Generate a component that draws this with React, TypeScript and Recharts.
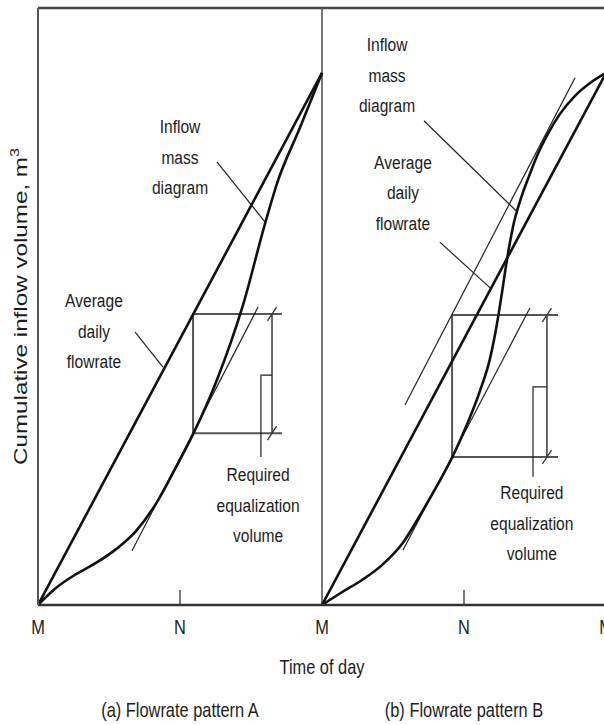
import {
  ComposedChart,
  Line,
  Scatter,
  XAxis,
  YAxis,
  ReferenceLine,
} from "recharts";

// x = days from midnight (M = midnight, N = noon), y = share of one day's inflow volume
const timeTicks = [0, 0.5, 1, 1.5, 2];
const timeTickLabels = ["M", "N", "M", "N", "M"];
const panelCaptions = ["(a) Flowrate pattern A", "(b) Flowrate pattern B"];
const yTop = 1.122;

type Pt = [number, number];

// (a) flowrate pattern A
const averageA: Pt[] = [[0, 0], [1, 1]];
const inflowA: Pt[] = [
  [0, 0], [0.063, 0.032], [0.134, 0.058], [0.204, 0.079], [0.275, 0.105],
  [0.345, 0.139], [0.415, 0.19], [0.486, 0.259], [0.546, 0.321], [0.63, 0.423],
  [0.722, 0.564], [0.799, 0.716], [0.842, 0.793], [0.923, 0.898], [1, 1],
];
const tangentA: Pt[] = [[0.331, 0.102], [0.775, 0.56]];
const boxA: Pt[] = [[0.859, 0.547], [0.546, 0.547], [0.546, 0.323], [0.859, 0.323]];
const dimA: Pt[] = [[0.824, 0.547], [0.824, 0.323]];

// (b) flowrate pattern B
const averageB: Pt[] = [[1, 0], [2, 1]];
const inflowB: Pt[] = [
  [1, 0], [1.07, 0.024], [1.141, 0.047], [1.211, 0.075], [1.285, 0.117],
  [1.352, 0.175], [1.408, 0.227], [1.461, 0.28], [1.511, 0.34], [1.556, 0.402],
  [1.592, 0.464], [1.616, 0.528], [1.634, 0.588], [1.651, 0.648], [1.673, 0.712],
  [1.701, 0.765], [1.729, 0.806], [1.757, 0.844], [1.792, 0.882], [1.838, 0.923],
  [1.891, 0.957], [1.944, 0.981], [2, 1],
];
const tangentBLow: Pt[] = [[1.285, 0.103], [1.732, 0.558]];
const tangentBHigh: Pt[] = [[1.292, 0.376], [1.891, 0.991]];
const boxB: Pt[] = [[1.831, 0.545], [1.458, 0.545], [1.458, 0.278], [1.831, 0.278]];
const dimB: Pt[] = [[1.792, 0.545], [1.792, 0.278]];

// pointer lines from the notes
const leaders: Pt[][] = [
  [[0.63, 0.833], [0.799, 0.72]],
  [[0.342, 0.513], [0.44, 0.447]],
  [[0.824, 0.432], [0.785, 0.432], [0.785, 0.278]],
  [[1.359, 0.91], [1.687, 0.739]],
  [[1.415, 0.682], [1.592, 0.596]],
  [[1.792, 0.41], [1.743, 0.41], [1.743, 0.241]],
];
const slashCenters: Pt[] = [[0.824, 0.547], [0.824, 0.323], [1.792, 0.545], [1.792, 0.278]];
const noonTicks = [0.5, 1.5];

const notes = [
  { x: 0.5, y: 0.887, lines: ["Inflow", "mass", "diagram"] },
  { x: 0.197, y: 0.56, lines: ["Average", "daily", "flowrate"] },
  { x: 0.775, y: 0.233, lines: ["Required", "equalization", "volume"] },
  { x: 1.229, y: 1.041, lines: ["Inflow", "mass", "diagram"] },
  { x: 1.285, y: 0.82, lines: ["Average", "daily", "flowrate"] },
  { x: 1.739, y: 0.199, lines: ["Required", "equalization", "volume"] },
];

const FONT = "'Liberation Sans', Arial, Helvetica, sans-serif";
const INK = "#1c1c1c";
const NARROW = 0.82;

const pts = (arr: Pt[]) => arr.map(([x, y]) => ({ x, y }));

function NoteText({ cx, cy, payload }: any) {
  return (
    <text
      transform={`translate(${cx},${cy}) scale(${NARROW},1)`}
      textAnchor="middle"
      fontFamily={FONT}
      fontSize={19}
      fill={INK}
    >
      {payload.lines.map((t: string, i: number) => (
        <tspan key={i} x={0} dy={i === 0 ? 0 : 30.5}>
          {t}
        </tspan>
      ))}
    </text>
  );
}

function TimeTick({ x, y, payload }: any) {
  const label = timeTickLabels[timeTicks.indexOf(payload.value)];
  return (
    <text
      transform={`translate(${x},${y + 21}) scale(${NARROW},1)`}
      textAnchor="middle"
      fontFamily={FONT}
      fontSize={20}
      fill={INK}
    >
      {label}
    </text>
  );
}

function TimeAxisLabel(props: any) {
  const vb = props.viewBox;
  const mid = vb.x + vb.width / 2;
  const centers = [vb.x + vb.width / 4, vb.x + (vb.width * 3) / 4];
  return (
    <g fontFamily={FONT} fontSize={20} fill={INK}>
      <text transform={`translate(${mid},${vb.y + 69}) scale(${NARROW},1)`} textAnchor="middle">
        Time of day
      </text>
      {panelCaptions.map((c, i) => (
        <text
          key={c}
          transform={`translate(${centers[i]},${vb.y + 112}) scale(${NARROW},1)`}
          textAnchor="middle"
        >
          {c}
        </text>
      ))}
    </g>
  );
}

function VolumeAxisLabel(props: any) {
  const vb = props.viewBox;
  return (
    <text
      transform={`translate(${vb.x + 27},${vb.y + vb.height / 2}) rotate(-90)`}
      textAnchor="middle"
      fontFamily={FONT}
      fontSize={18}
      fill={INK}
      textLength={317}
      lengthAdjust="spacingAndGlyphs"
    >
      Cumulative inflow volume, m
      <tspan dy={-8} fontSize={12}>
        3
      </tspan>
    </text>
  );
}

function seg(key: string, data: Pt[], stroke: string, width: number, curve = false) {
  return (
    <Line
      key={key}
      data={pts(data)}
      dataKey="y"
      type={curve ? "monotone" : "linear"}
      stroke={stroke}
      strokeWidth={width}
      dot={false}
      activeDot={false}
      legendType="none"
      isAnimationActive={false}
    />
  );
}

export default function App() {
  const slashes = slashCenters.map(([x, y]) => [
    [x - 0.016, y - 0.013],
    [x + 0.016, y + 0.013],
  ] as Pt[]);

  return (
    <div
      style={{
        position: "absolute",
        left: 0,
        top: 0,
        width: 604,
        height: 725,
        overflow: "hidden",
        background: "#fff",
      }}
    >
      <ComposedChart width={612} height={725} margin={{ top: 8, right: 6, bottom: 0, left: 0 }}>
        <XAxis
          dataKey="x"
          type="number"
          domain={[0, 2]}
          allowDataOverflow
          ticks={timeTicks}
          interval={0}
          tickLine={false}
          tick={<TimeTick />}
          axisLine={{ stroke: "#333", strokeWidth: 2.4 }}
          height={120}
          label={TimeAxisLabel}
        />
        <YAxis
          type="number"
          domain={[0, yTop]}
          allowDataOverflow
          tick={false}
          tickLine={false}
          axisLine={{ stroke: "#555", strokeWidth: 2 }}
          width={38}
          label={VolumeAxisLabel}
        />
        <ReferenceLine y={yTop} stroke="#444" strokeWidth={2.4} />
        <ReferenceLine x={1} stroke="#555" strokeWidth={1.6} />
        {noonTicks.map((t) => seg(`noon-${t}`, [[t, 0], [t, 0.028]], "#444", 1.4))}

        {seg("boxA", boxA, "#555", 2)}
        {seg("dimA", dimA, "#444", 1.6)}
        {seg("boxB", boxB, "#555", 2)}
        {seg("dimB", dimB, "#444", 1.6)}
        {slashes.map((s, i) => seg(`slash-${i}`, s, "#333", 1.3))}
        {leaders.map((l, i) => seg(`leader-${i}`, l, "#222", 1.2))}

        {seg("tangentA", tangentA, "#222", 1.2)}
        {seg("tangentBLow", tangentBLow, "#222", 1.2)}
        {seg("tangentBHigh", tangentBHigh, "#222", 1.2)}

        {seg("averageA", averageA, "#111", 2.6)}
        {seg("averageB", averageB, "#111", 2.6)}
        {seg("inflowA", inflowA, "#111", 2.6, true)}
        {seg("inflowB", inflowB, "#111", 2.6, true)}

        <Scatter data={notes} dataKey="y" shape={NoteText} isAnimationActive={false} legendType="none" />
      </ComposedChart>
    </div>
  );
}
